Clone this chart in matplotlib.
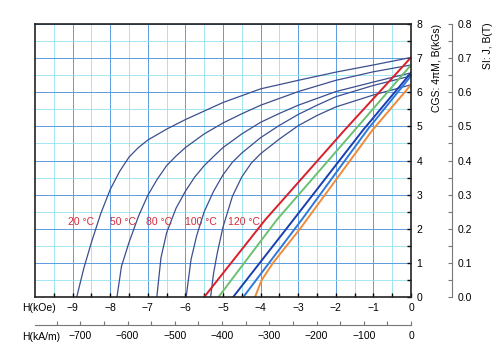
import numpy as np
import matplotlib.pyplot as plt
from matplotlib.ticker import MultipleLocator, FormatStrFormatter

plt.rcParams['font.family'] = ['Liberation Sans', 'DejaVu Sans']

# temperatures
temps = ['20 °C', '50 °C', '80 °C', '100 °C', '120 °C']

# intrinsic (J) curves, H in kOe, J in kGs
j20_h = [0, -1, -2, -3, -4, -5, -5.5, -6, -6.5, -7, -7.25, -7.5, -7.75, -8, -8.25, -8.5, -8.7, -8.89]
j20_b = [7.02, 6.8, 6.59, 6.35, 6.1, 5.7, 5.45, 5.2, 4.92, 4.6, 4.38, 4.1, 3.68, 3.15, 2.45, 1.6, 0.85, 0]
j50_h = [0, -1, -2, -3, -4, -4.5, -5, -5.5, -6, -6.25, -6.5, -6.75, -7, -7.25, -7.5, -7.7, -7.82]
j50_b = [6.8, 6.6, 6.35, 6.02, 5.62, 5.37, 5.1, 4.78, 4.38, 4.13, 3.85, 3.45, 2.98, 2.36, 1.6, 0.9, 0]
j80_h = [0, -1, -2, -3, -3.5, -4, -4.5, -5, -5.25, -5.5, -5.75, -6, -6.25, -6.5, -6.65, -6.76]
j80_b = [6.57, 6.3, 6.02, 5.62, 5.38, 5.12, 4.78, 4.38, 4.12, 3.85, 3.52, 3.1, 2.6, 1.88, 1.15, 0]
j100_h = [0, -1, -2, -2.5, -3, -3.5, -4, -4.5, -4.75, -5, -5.25, -5.5, -5.7, -5.85, -5.98]
j100_b = [6.48, 6.2, 5.87, 5.62, 5.35, 5.03, 4.67, 4.22, 3.95, 3.58, 3.1, 2.5, 1.8, 1.1, 0]
j120_h = [0, -1, -2, -2.5, -3, -3.5, -4, -4.25, -4.5, -4.75, -5, -5.15, -5.25, -5.33]
j120_b = [6.22, 5.92, 5.57, 5.32, 5.02, 4.63, 4.2, 3.92, 3.52, 2.95, 2.05, 1.3, 0.7, 0]

# normal (B) curves
b20_h = [0, -1.76, -3.88, -5.5]
b20_b = [7.02, 4.9, 2.26, 0]
b50_h = [0, -1.49, -3.57, -5.12]
b50_b = [6.8, 4.9, 2.26, 0]
b80_h = [0, -1.27, -3.13, -4.73]
b80_b = [6.57, 4.9, 2.26, 0]
b100_h = [0, -1.16, -2.91, -4.46]
b100_b = [6.48, 4.9, 2.26, 0]
b120_h = [0, -1.02, -2.95, -3.67, -3.97, -4.15]
b120_b = [6.22, 4.9, 2.0, 1.0, 0.5, 0]

label_h = [-8.78, -7.65, -6.69, -5.60, -4.44]

j_h = [j20_h, j50_h, j80_h, j100_h, j120_h]
j_b = [j20_b, j50_b, j80_b, j100_b, j120_b]
b_h = [b20_h, b50_h, b80_h, b100_h, b120_h]
b_b = [b20_b, b50_b, b80_b, b100_b, b120_b]
b_colors = ['#d8202a', '#6cc070', '#1a3fb0', '#2f78d8', '#f08a3c']

fig = plt.figure(figsize=(5, 3.64), dpi=100)
ax = fig.add_axes([0.07, 0.184, 0.752, 0.75])

for h, b in zip(j_h, j_b):
    ax.plot(h, b, color='#3b4f8f', lw=0.9)
for h, b, c in zip(b_h, b_b, b_colors):
    ax.plot(h, b, color=c, lw=1.4)
for t, x in zip(temps, label_h):
    ax.text(x, 2.21, t, color='#d42a3a', fontsize=7.5, ha='center', va='center')

ax.set_xlim(-10, 0)
ax.set_ylim(0, 8)
ax.set_xticks(np.arange(-9, 1, 1))
ax.set_xticks(np.arange(-9.5, 0, 0.5), minor=True)
ax.yaxis.set_major_locator(MultipleLocator(1))
ax.yaxis.set_minor_locator(MultipleLocator(0.5))
ax.grid(which='major', color='#5b9be0', lw=0.7)
ax.grid(which='minor', color='#93e2f0', lw=0.6)
ax.set_axisbelow(True)
for s in ax.spines.values():
    s.set_color('#222222')
    s.set_linewidth(1.2)

# kA/m axis
sec = ax.secondary_xaxis(-0.1026, functions=(lambda h: h * 79.577, lambda a: a / 79.577))
sec.set_xticks(np.arange(-700, 1, 100))
sec.xaxis.set_minor_locator(MultipleLocator(50))
sec.tick_params(which='both', direction='in', length=3, width=0.8, color='#777777', labelsize=7.5, pad=4)
sec.spines['bottom'].set_color('#777777')

# SI axis
ax3 = ax.twinx()
ax3.set_ylim(0, 0.8)
ax3.spines['right'].set_position(('axes', 1.109))
ax3.spines['right'].set_color('#777777')
for s in ['left', 'top', 'bottom']:
    ax3.spines[s].set_visible(False)
ax3.yaxis.set_major_locator(MultipleLocator(0.1))
ax3.yaxis.set_minor_locator(MultipleLocator(0.05))
ax3.yaxis.set_major_formatter(FormatStrFormatter('%.1f'))
ax3.tick_params(which='both', direction='in', length=3, width=0.8, color='#777777', labelsize=7.5, pad=4)
ax3.set_ylabel('SI: J, B(T)', fontsize=7.5, rotation=90)
ax3.yaxis.set_label_coords(1.191, 0.92)

# CGS axis on the right of the main plot (after twinx, which moves ticks left)
ax.yaxis.tick_right()
ax.tick_params(which='both', direction='in', length=3, width=1, labelsize=7.5, pad=4)
ax.tick_params(axis='y', which='both', left=False, labelleft=False, right=True, labelright=True)
ax.yaxis.set_label_position('right')
ax.set_ylabel('CGS: 4\u03c0M, B(kGs)', fontsize=7.5, rotation=90)
ax.yaxis.set_label_coords(1.056, 0.84)

fig.text(22 / 500, 1 - 308 / 364, 'H(kOe)', fontsize=7.5, va='center', ha='left')
fig.text(22 / 500, 1 - 337 / 364, 'H(kA/m)', fontsize=7.5, va='center', ha='left')

fig.savefig('out.png', dpi=100)
